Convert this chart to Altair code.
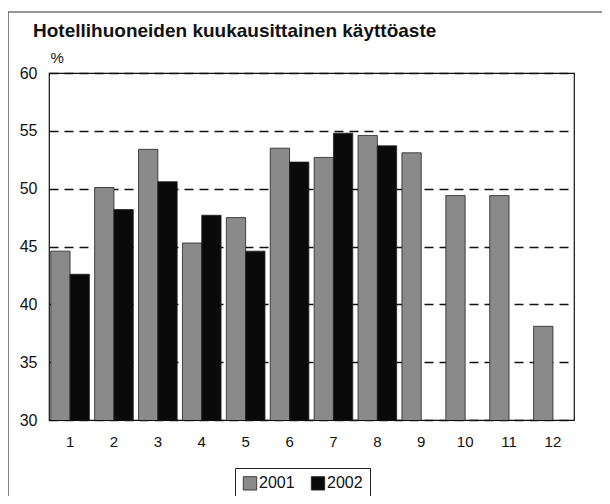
import altair as alt
import pandas as pd

months = [1, 2, 3, 4, 5, 6, 7, 8, 9, 10, 11, 12]
y2001 = [44.6, 50.1, 53.4, 45.3, 47.5, 53.5, 52.7, 54.6, 53.1, 49.4, 49.4, 38.1]
y2002 = [42.6, 48.2, 50.6, 47.7, 44.6, 52.3, 54.8, 53.7, None, None, None]
years = ["2001", "2002"]
title_text = "Hotellihuoneiden kuukausittainen käyttöaste"
FONT = "Liberation Sans"

rows = []
for i, m in enumerate(months):
    rows.append({"month": str(m), "year": "2001", "value": y2001[i]})
    if i < len(y2002) and y2002[i] is not None:
        rows.append({"month": str(m), "year": "2002", "value": y2002[i]})
df = pd.DataFrame(rows)

bars = alt.Chart(df).mark_bar(stroke="#222", strokeWidth=0.8, clip=True).encode(
    x=alt.X("month:N", sort=[str(m) for m in months],
            scale=alt.Scale(paddingInner=0.12, paddingOuter=0.04),
            axis=alt.Axis(title=None, labelAngle=0, ticks=False, domain=False,
                          labelFontSize=15, labelFont=FONT, labelColor="#111",
                          labelPadding=14)),
    xOffset=alt.XOffset("year:N", sort=years),
    y=alt.Y("value:Q", scale=alt.Scale(domain=[30, 60], nice=False, zero=False),
            axis=alt.Axis(title="%", titleAngle=0, titleAlign="left", titleBaseline="alphabetic",
                          titleX=1, titleY=-11, titleFontSize=15, titleFontWeight="normal",
                          titleFont=FONT, titleColor="#111",
                          values=[30, 35, 40, 45, 50, 55, 60], ticks=False, domain=False,
                          labelFontSize=16, labelFont=FONT, labelColor="#111", labelPadding=12,
                          grid=True, gridColor="#111", gridDash=[9, 6], gridWidth=1.4)),
    color=alt.Color("year:N", sort=years,
                    scale=alt.Scale(domain=years, range=["#8a8a8a", "#0a0a0a"]),
                    legend=alt.Legend(title=None, orient="none", direction="horizontal",
                                      legendX=186, legendY=395,
                                      symbolType="square", symbolSize=180,
                                      symbolStrokeColor="#222", symbolStrokeWidth=0.8,
                                      labelFontSize=16, labelFont=FONT, labelColor="#111",
                                      labelOffset=1, columnPadding=14,
                                      padding=7, strokeColor="#222")),
)

frame = alt.Chart(alt.Data(values=[{"a": 1}])).mark_rect(
    fill="transparent", stroke="#333", strokeWidth=1.2, clip=False
).encode(
    x=alt.value(-41), x2=alt.value(620), y=alt.value(-61), y2=alt.value(520)
)

title = alt.Chart(alt.Data(values=[{"t": title_text}])).mark_text(
    align="left", baseline="alphabetic", fontSize=19, fontWeight="bold",
    font=FONT, color="#111", clip=False
).encode(text="t:N", x=alt.value(-16), y=alt.value(-36))

chart = alt.layer(bars, frame, title).properties(
    width=525, height=347,
    autosize=alt.AutoSizeParams(type="none"),
    padding={"left": 41, "top": 65, "right": 28, "bottom": 76},
    background="white",
).configure_view(stroke="#111", strokeWidth=1.2)

chart.save("out.html", embed_options={"renderer": "svg", "actions": False})
